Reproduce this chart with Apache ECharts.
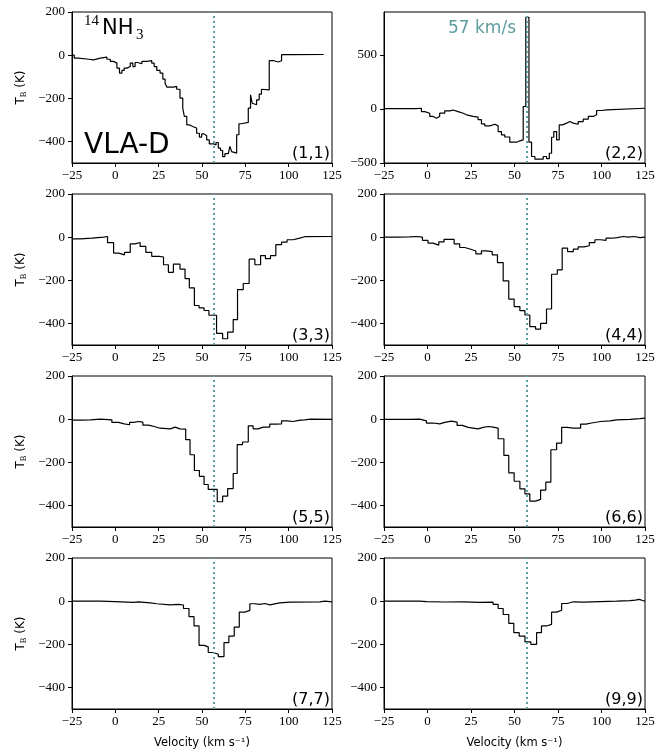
<!DOCTYPE html>
<html><head><meta charset="utf-8">
<script src="https://cdn.jsdelivr.net/npm/echarts@6/dist/echarts.min.js"></script>
<style>html,body{margin:0;padding:0;background:#fff}#c{width:668px;height:751px}</style>
</head><body><div id="c"></div>
<script>
// ---- data ----
const vLine = 57;
const xTicks = [-25, 0, 25, 50, 75, 100, 125];
const yTicks = [-400, -200, 0, 200];
const yTicks22 = [-500, 0, 500];
const panelLabels = ['(1,1)', '(2,2)', '(3,3)', '(4,4)', '(5,5)', '(6,6)', '(7,7)', '(9,9)'];
const yMaxes = [200, 895, 200, 200, 200, 200, 200, 200];

// channel edges (km/s) and brightness temperatures (K) per panel
const e11 = [-25, -23.7, -21.2, -15.4, -12.5, -8.7, -4.9, -2.9, -1.0, 0.9, 2.4, 3.8, 5.1, 6.7, 8.6, 10.1, 11.4, 12.8, 15.3, 18.2, 21.0, 22.4, 23.9, 25.8, 27.4, 28.7, 29.7, 33.5, 35.4, 37.3, 38.9, 39.8, 41.2, 42.7, 44.6, 46.9, 48.5, 49.8, 51.2, 52.7, 54.2, 56.5, 58.1, 59.4, 60.7, 61.9, 63.2, 65.2, 66.1, 67.1, 68.0, 70.0, 71.3, 72.8, 76.7, 78.0, 79.0, 79.9, 81.5, 83.0, 84.3, 85.3, 88.8, 91.1, 94.0, 95.9, 100.6, 120.2];
const t11 = [0, -14, -19, -22, -14, -9, -19, -29, -37, -60, -83, -71, -60, -53, -37, -53, -34, -40, -29, -25, -37, -53, -71, -83, -111, -130, -148, -145, -158, -199, -246, -284, -323, -331, -338, -362, -380, -365, -374, -393, -411, -416, -405, -431, -442, -470, -457, -451, -423, -447, -454, -369, -318, -312, -246, -184, -223, -230, -207, -181, -158, -161, -25, -32, -26, 2, 3];

const e22 = [-25, -6.4, -3.5, -1.6, 1.3, 3.2, 5.1, 7.0, 9.9, 12.8, 14.7, 17.6, 20.5, 22.4, 26.2, 29.1, 31.0, 32.9, 35.8, 38.7, 40.6, 42.5, 44.4, 47.3, 51.2, 53.1, 55.0, 56.5, 58.3, 59.8, 61.7, 66.5, 68.4, 70.0, 71.3, 72.6, 74.2, 75.7, 77.6, 79.9, 81.8, 83.8, 86.6, 89.5, 92.4, 95.3, 97.2, 100.1, 103.0, 125];
const t22 = [2, 6, -25, -40, -70, -86, -70, -40, -18, -10, -25, -40, -55, -70, -77, -100, -138, -157, -142, -157, -210, -240, -260, -308, -295, -286, 22, 846, -308, -440, -465, -440, -460, -410, -262, -210, -286, -148, -132, -117, -132, -142, -117, -95, -70, -55, -15, -9, 6];

const e33 = [-25, -20.2, -13.5, -6.8, -4.5, -1.0, 1.9, 5.3, 8.6, 11.4, 14.3, 17.6, 21.0, 25.4, 27.8, 30.6, 33.5, 37.3, 40.2, 42.7, 45.6, 48.3, 51.2, 54.0, 58.4, 61.9, 64.8, 68.0, 70.5, 73.8, 77.2, 80.5, 83.8, 86.6, 89.5, 92.6, 95.9, 99.1, 102.6, 105.8, 109.3, 125];
const t33 = [-8, -5, 0, 3, -25, -74, -82, -71, -31, -25, -43, -71, -89, -92, -128, -163, -125, -148, -192, -235, -317, -328, -340, -362, -446, -471, -440, -382, -243, -215, -102, -128, -86, -100, -86, -35, -23, -12, -6, 2, 3];

const e44 = [-25, -17.9, -10.2, -6.4, -2.9, 0.3, 3.2, 6.5, 9.5, 15.3, 18.5, 21.4, 24.9, 27.8, 31.0, 33.9, 37.2, 40.2, 43.5, 46.7, 49.8, 53.1, 56.0, 58.8, 62.1, 65.0, 68.4, 71.3, 74.6, 77.4, 80.5, 83.8, 86.6, 89.9, 93.0, 96.2, 99.5, 102.6, 105.8, 109.1, 112.5, 115.4, 118.7, 122.1, 125];
const t44 = [0, 1, 3, 0, -15, -28, -37, -22, -10, -31, -48, -56, -64, -78, -64, -67, -82, -118, -203, -287, -322, -341, -361, -415, -426, -400, -333, -172, -152, -51, -67, -56, -45, -40, -25, -12, -15, -5, -2, 3, 0, 3, -2, 0];

const e55 = [-25, -20.2, -14.4, -8.7, -2.0, 1.9, 5.1, 8.2, 10.5, 13.4, 15.9, 19.1, 22.4, 25.8, 31.6, 34.5, 37.3, 40.6, 43.1, 45.6, 48.5, 51.2, 53.6, 58.8, 61.9, 64.8, 68.0, 70.3, 73.4, 76.7, 79.5, 82.4, 85.3, 89.1, 92.6, 95.9, 99.1, 102.6, 105.8, 109.3, 112.5, 125];
const t55 = [-5, -3, 0, -3, -15, -22, -26, -15, -11, -14, -28, -34, -42, -45, -37, -45, -46, -95, -165, -238, -265, -303, -326, -383, -357, -322, -252, -118, -106, -31, -45, -37, -37, -23, -22, -8, -11, -6, -3, 0, -1];

const e66 = [-25, -10.2, -4.5, -0.6, 3.2, 7.0, 9.9, 13.7, 17.0, 20.1, 23.3, 29.1, 32.0, 34.9, 37.7, 40.6, 43.9, 46.7, 49.8, 53.1, 56.0, 58.8, 62.1, 65.0, 68.0, 70.9, 74.2, 77.1, 80.3, 83.8, 88.0, 91.1, 94.3, 99.5, 104.9, 108.7, 116.4, 122.1, 125];
const t66 = [-1, 0, -8, -18, -22, -15, -9, -14, -29, -38, -45, -38, -34, -37, -42, -91, -168, -249, -288, -323, -346, -380, -372, -329, -292, -142, -111, -38, -42, -42, -23, -18, -11, -8, -3, -1, 2, 5];

const e77 = [-25, -8.7, -0.1, 10.5, 13.4, 20.1, 23.9, 31.6, 36.4, 39.3, 42.5, 45.4, 48.3, 51.2, 53.6, 56.5, 59.4, 62.7, 65.5, 68.6, 71.5, 74.8, 77.6, 80.5, 83.4, 86.3, 89.1, 94.9, 100.6, 118.0, 120.9, 125];
const t77 = [0, -2, -6, -3, -8, -12, -17, -15, -18, -34, -72, -115, -205, -212, -238, -246, -257, -192, -162, -120, -51, -43, -12, -15, -11, -17, -8, -5, -3, 0, -3];

const e99 = [-25, -4.5, -0.6, 9.9, 20.5, 30.1, 37.7, 40.6, 43.5, 46.7, 49.6, 52.7, 56.0, 59.4, 62.7, 65.5, 68.4, 71.3, 74.2, 77.1, 80.3, 83.8, 89.5, 99.1, 108.7, 116.4, 119.3, 121.8, 123.5, 125];
const t99 = [0, -2, -4, -3, -6, -5, -15, -34, -62, -103, -146, -162, -189, -200, -146, -115, -108, -51, -42, -11, -3, -5, -2, 0, 2, 5, 8, 3, 0];

const edgesAll = [e11, e22, e33, e44, e55, e66, e77, e99];
const tempsAll = [t11, t22, t33, t44, t55, t66, t77, t99];

// ---- layout ----
const colLeft = [72, 384], colW = [260, 261];
const rowTop = [12, 194, 376, 558], rowH = 151;
const teal = '#5f9ea0';
const serif = 'Liberation Serif';
const sans = 'DejaVu Sans';
const minus = v => String(v).replace('-', '\u2212');

const grids = [], xAxes = [], yAxes = [], series = [], graphics = [];
for (let i = 0; i < 8; i++) {
  const r = Math.floor(i / 2), c = i % 2;
  const left = colLeft[c], top = rowTop[r], w = colW[c];
  grids.push({left: left, top: top, width: w, height: rowH, show: true, borderColor: '#000', borderWidth: 1, containLabel: false});
  const xa = {
    type: 'value', gridIndex: i, min: -25, max: 125, interval: 25,
    axisLine: {show: true, onZero: false, lineStyle: {color: '#000', width: 1}},
    axisTick: {show: true, length: 4, lineStyle: {color: '#000'}},
    axisLabel: {show: true, formatter: minus, fontFamily: serif, fontSize: 13, color: '#000', margin: 6, showMinLabel: true, showMaxLabel: true},
    splitLine: {show: false}
  };
  if (r === 3) {
    xa.name = 'Velocity (km s\u207B\u00B9)';
    xa.nameLocation = 'middle';
    xa.nameGap = 28;
    xa.nameTextStyle = {fontFamily: sans, fontSize: 11.5, color: '#000'};
  }
  xAxes.push(xa);
  const yt = i === 1 ? yTicks22 : yTicks;
  const ya = {
    type: 'value', gridIndex: i, min: -500, max: yMaxes[i],
    axisLine: {show: true, onZero: false, lineStyle: {color: '#000', width: 1}},
    axisTick: {show: true, length: 4, customValues: yt, lineStyle: {color: '#000'}},
    axisLabel: {show: true, customValues: yt, formatter: minus, fontFamily: serif, fontSize: 13, color: '#000', margin: 7},
    splitLine: {show: false}
  };
  if (c === 0) {
    ya.name = '{t|T}{b|B}{k| (K)}';
    ya.nameLocation = 'middle';
    ya.nameRotate = 90;
    ya.nameGap = 44;
    ya.nameTextStyle = {
      color: '#000',
      rich: {
        t: {fontFamily: sans, fontSize: 12, lineHeight: 14, color: '#000'},
        b: {fontFamily: serif, fontSize: 8.5, lineHeight: 9, verticalAlign: 'bottom', color: '#000'},
        k: {fontFamily: sans, fontSize: 12, lineHeight: 14, color: '#000'}
      }
    };
  }
  yAxes.push(ya);
  const ed = edgesAll[i], tv = tempsAll[i];
  const data = ed.map((v, k) => [v, tv[Math.min(k, tv.length - 1)]]);
  series.push({
    type: 'line', xAxisIndex: i, yAxisIndex: i, step: 'end', data: data,
    showSymbol: false, symbol: 'none', clip: true, animation: false,
    lineStyle: {color: '#000', width: 1.2},
    markLine: {
      silent: true, symbol: ['none', 'none'], label: {show: false}, animation: false,
      lineStyle: {color: teal, type: [2, 3], width: 2},
      data: [{xAxis: vLine}]
    }
  });
  graphics.push({
    type: 'text', x: left + w - 2, y: top + rowH - 1,
    style: {text: panelLabels[i], font: '16px "DejaVu Sans"', fill: '#000', textAlign: 'right', textVerticalAlign: 'bottom'}
  });
}
graphics.push({type: 'text', x: 84, y: 146, style: {text: 'VLA-D', font: '28px "DejaVu Sans"', fill: '#000', textAlign: 'left', textVerticalAlign: 'middle'}});
graphics.push({type: 'text', x: 84, y: 21, style: {text: '14', font: '15px "Liberation Serif"', fill: '#000', textAlign: 'left', textVerticalAlign: 'middle'}});
graphics.push({type: 'text', x: 102, y: 28.5, style: {text: 'NH', font: '21px "DejaVu Sans"', fill: '#000', textAlign: 'left', textVerticalAlign: 'middle'}});
graphics.push({type: 'text', x: 136, y: 35, style: {text: '3', font: '15px "Liberation Serif"', fill: '#000', textAlign: 'left', textVerticalAlign: 'middle'}});
graphics.push({type: 'text', x: 516, y: 29, style: {text: '57 km/s', font: '17px "DejaVu Sans"', fill: teal, textAlign: 'right', textVerticalAlign: 'middle'}});

const chart = echarts.init(document.getElementById('c'), null, {renderer: 'canvas'});
chart.setOption({
  animation: false,
  backgroundColor: '#fff',
  grid: grids, xAxis: xAxes, yAxis: yAxes, series: series, graphic: graphics
});
</script></body></html>
